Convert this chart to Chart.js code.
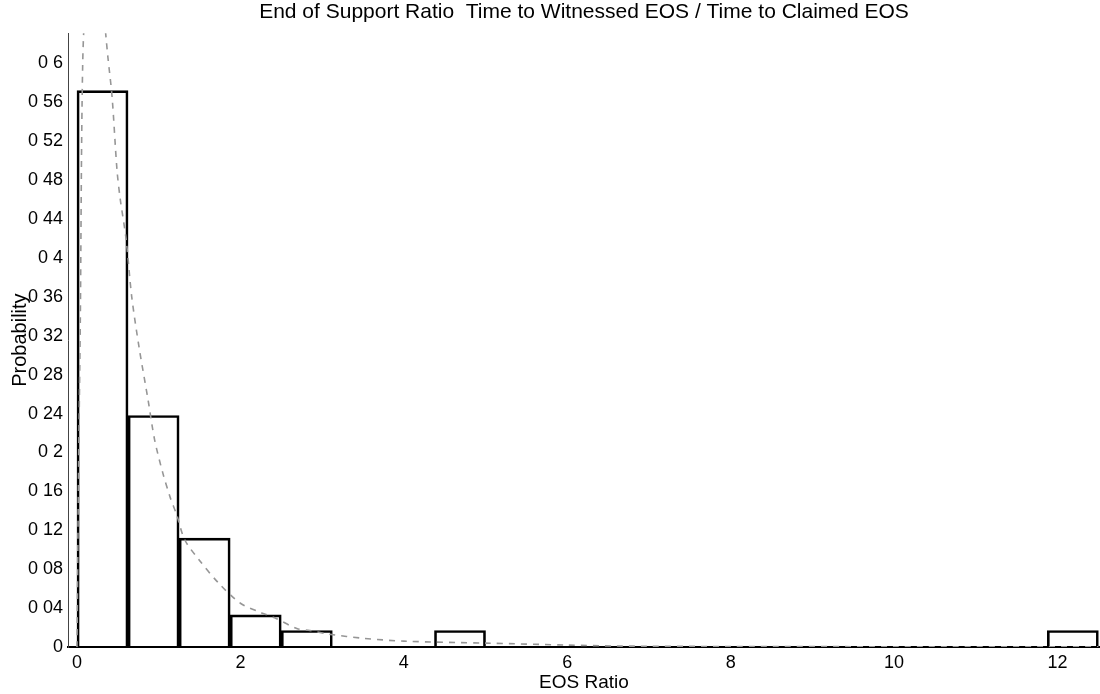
<!DOCTYPE html>
<html>
<head>
<meta charset="utf-8">
<script src="https://cdn.jsdelivr.net/npm/chart.js@4/dist/chart.umd.min.js"></script>
<style>
  html, body { margin: 0; padding: 0; background: #fff; }
  #wrap { width: 1100px; height: 694px; }
</style>
</head>
<body>
<div id="wrap"><canvas id="eos__chart"></canvas></div>
<script>
// histogram bins (centres, width 0.625) and the probability of each
const binCenters = [0.3125, 0.9375, 1.5625, 2.1875, 2.8125, 3.4375, 4.0625, 4.6875, 5.3125, 5.9375,
  6.5625, 7.1875, 7.8125, 8.4375, 9.0625, 9.6875, 10.3125, 10.9375, 11.5625, 12.1875];
const binProb = [0.572, 0.238, 0.112, 0.033, 0.017, 0, 0, 0.017, 0, 0,
  0, 0, 0, 0, 0, 0, 0, 0, 0, 0.017];

// fitted density curve (dashed grey)
const fitX = [0, 0.02, 0.04, 0.07, 0.12, 0.2, 0.3, 0.38, 0.43, 0.49, 0.53, 0.6, 0.67, 0.76, 0.87,
  0.95, 1.05, 1.14, 1.22, 1.32, 1.5, 1.73, 2.0, 2.26, 2.42, 2.69, 2.85, 3.1, 3.5, 4.0, 5.0, 6.0, 6.6, 8, 10, 12.5];
const fitY = [0, 0.19, 0.33, 0.6, 0.68, 0.71, 0.67, 0.605, 0.565, 0.49, 0.46, 0.42, 0.36, 0.308, 0.254,
  0.213, 0.179, 0.154, 0.136, 0.11, 0.089, 0.066, 0.045, 0.035, 0.03, 0.019, 0.017, 0.013, 0.009, 0.006, 0.004, 0.002, 0.001, 0.0005, 0.0003, 0.0002];

const xTicks = [0, 2, 4, 6, 8, 10, 12];
const yTicks = [0, 0.04, 0.08, 0.12, 0.16, 0.2, 0.24, 0.28, 0.32, 0.36, 0.4, 0.44, 0.48, 0.52, 0.56, 0.6];

const font = 'Liberation Sans, Arial, sans-serif';

const data = {
  datasets: [{
    type: 'line',
    label: 'Fit',
    data: fitX.map((x, i) => ({x: x, y: fitY[i]})),
    borderColor: 'rgb(150, 150, 150)',
    borderWidth: 1.6,
    borderDash: [6, 6],
    pointRadius: 0,
    tension: 0.3,
    fill: false,
    order: 0
  }, {
    type: 'bar',
    label: 'EOS Ratio',
    data: binCenters.map((x, i) => ({x: x, y: binProb[i]})),
    backgroundColor: 'rgba(255, 255, 255, 0)',
    borderColor: '#000',
    borderWidth: 2,
    barPercentage: 1,
    categoryPercentage: 1,
    order: 1
  }]
};

const config = {
  type: 'bar',
  data,
  options: {
    responsive: true,
    maintainAspectRatio: false,
    animation: false,
    layout: { padding: 0 },
    plugins: {
      legend: { display: false },
      tooltip: { enabled: false },
      title: {
        display: true,
        fullSize: false,
        text: 'End of Support Ratio  Time to Witnessed EOS / Time to Claimed EOS',
        color: '#000',
        font: { family: font, size: 21, weight: 'normal' },
        padding: { top: 0, bottom: 8 }
      }
    },
    scales: {
      x: {
        type: 'linear',
        offset: false,
        min: -0.11,
        max: 12.52,
        afterBuildTicks: scale => { scale.ticks = xTicks.map(v => ({value: v})); },
        afterFit: scale => { scale.height = 47; },
        grid: { display: false, drawTicks: false },
        border: { display: true, color: '#000', width: 2 },
        ticks: { color: '#000', font: { family: font, size: 18 }, padding: 5, maxRotation: 0 },
        title: {
          display: true, text: 'EOS Ratio', color: '#000',
          font: { family: font, size: 19 }, padding: { top: 0, bottom: 0 }
        }
      },
      y: {
        min: 0,
        max: 0.631,
        afterBuildTicks: scale => { scale.ticks = yTicks.map(v => ({value: v})); },
        afterFit: scale => { scale.width = 68; },
        grid: { display: false, drawTicks: false },
        border: { display: true, color: '#444', width: 1 },
        ticks: {
          color: '#000', font: { family: font, size: 18 }, padding: 5,
          callback: v => String(v).replace('.', ' ')
        },
        title: {
          display: true, text: 'Probability', color: '#000',
          font: { family: font, size: 20 }, padding: { top: 8, bottom: 0 }
        }
      }
    }
  }
};

var eosChart = new Chart(document.getElementById('eos__chart'), config);
</script>
</body>
</html>
